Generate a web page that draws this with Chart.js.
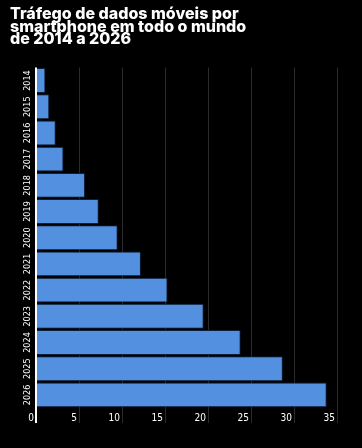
<!DOCTYPE html>
<html>
<head>
<meta charset="utf-8">
<script src="https://cdn.jsdelivr.net/npm/chart.js@4/dist/chart.umd.min.js"></script>
<style>
  body { margin: 0; background: #000; }
</style>
</head>
<body>
<canvas id="trafficChart" width="362" height="448"></canvas>
<script>
// years and monthly mobile data traffic per smartphone (GB)
const years = ['2014', '2015', '2016', '2017', '2018', '2019', '2020',
               '2021', '2022', '2023', '2024', '2025', '2026'];
const traffic = [1.1, 1.55, 2.3, 3.2, 5.7, 7.3, 9.5, 12.2, 15.3, 19.5, 23.8, 28.7, 33.8];
const xTicks = [0, 5, 10, 15, 20, 25, 30, 35];
const titleLines = ['Tráfego de dados móveis por', 'smartphone em todo o mundo', 'de 2014 a 2026'];

const ctx = document.getElementById('trafficChart').getContext('2d');

new Chart(ctx, {
  type: 'bar',
  data: {
    labels: years,
    datasets: [{
      data: traffic,
      backgroundColor: '#5390e0',
      borderColor: '#0c1f3d',
      borderWidth: 1,
      barPercentage: 0.95,
      categoryPercentage: 1
    }]
  },
  options: {
    indexAxis: 'y',
    responsive: false,
    animation: false,
    layout: { padding: { left: 10, right: 0, top: 8, bottom: 20 } },
    plugins: {
      legend: { display: false },
      tooltip: { enabled: false },
      title: {
        display: true,
        text: titleLines,
        align: 'start',
        color: '#fff',
        font: { family: 'Inter', size: 16, weight: '800', lineHeight: 0.78 },
        padding: { top: 0, bottom: 22 }
      }
    },
    scales: {
      x: {
        min: 0,
        max: 37.9,
        afterBuildTicks: axis => {
          axis.ticks = xTicks.map(v => ({ value: v }));
        },
        afterFit: axis => { axis.height = 20; },
        grid: {
          color: c => c.tick && c.tick.value === 0 ? '#fff' : '#2a2a2a',
          lineWidth: c => c.tick && c.tick.value === 0 ? 2 : 1,
          tickLength: 15
        },
        border: { display: false },
        ticks: {
          autoSkip: false,
          color: '#fff',
          align: 'end',
          labelOffset: -2,
          padding: -11,
          font: { family: 'DejaVu Sans Condensed', size: 10 }
        }
      },
      y: {
        afterFit: axis => { axis.width = 26; },
        grid: { display: false },
        border: { display: false },
        ticks: {
          color: '#fff',
          minRotation: 90,
          maxRotation: 90,
          crossAlign: 'center',
          padding: -10,
          font: { family: 'DejaVu Sans Condensed', size: 9 }
        }
      }
    }
  }
});
</script>
</body>
</html>
